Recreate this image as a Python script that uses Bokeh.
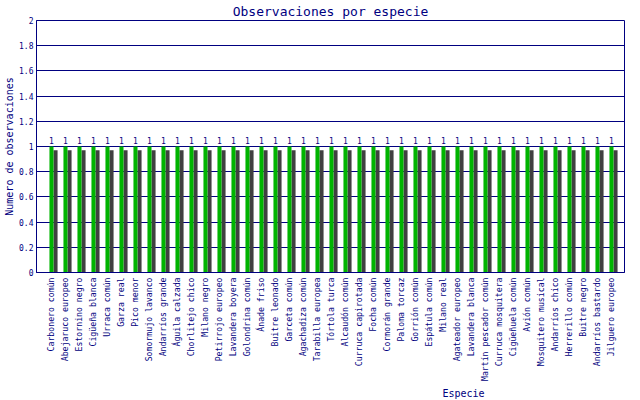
import math
from bokeh.plotting import figure
from bokeh.models import ColumnDataSource, Range1d, FixedTicker, Title
from bokeh.transform import dodge
from bokeh.core.properties import value
from bokeh.embed import file_html
from bokeh.resources import INLINE

species = [
    "Carbonero común", "Abejaruco europeo", "Estornino negro", "Cigüeña blanca",
    "Urraca común", "Garza real", "Pico menor", "Somormujo lavanco",
    "Andarríos grande", "Águila calzada", "Chorlitejo chico", "Milano negro",
    "Petirrojo europeo", "Lavandera boyera", "Golondrina común", "Ánade friso",
    "Buitre leonado", "Garceta común", "Agachadiza común", "Tarabilla europea",
    "Tórtola turca", "Alcaudón común", "Curruca capirotada", "Focha común",
    "Cormorán grande", "Paloma torcaz", "Gorrión común", "Espátula común",
    "Milano real", "Agateador europeo", "Lavandera blanca", "Martín pescador común",
    "Curruca mosquitera", "Cigüeñuela común", "Avión común", "Mosquitero musical",
    "Andarríos chico", "Herrerillo común", "Buitre negro", "Andarríos bastardo",
    "Jilguero europeo",
]
counts = [1, 1, 1, 1, 1, 1, 1, 1, 1, 1, 1, 1, 1, 1, 1, 1, 1, 1, 1, 1, 1,
          1, 1, 1, 1, 1, 1, 1, 1, 1, 1, 1, 1, 1, 1, 1, 1, 1, 1, 1, 1]
y_ticks = [0, 0.2, 0.4, 0.6, 0.8, 1, 1.2, 1.4, 1.6, 1.8, 2]
y_tick_labels = ["0", "0.2", "0.4", "0.6", "0.8", "1", "1.2", "1.4", "1.6", "1.8", "2"]

title_text = "Observaciones por especie"
x_title = "Especie"
y_title = "Numero de observaciones"

NAVY = "#000080"
GREEN = "#00b400"
SHADOW = "#404040"
FONT = "DejaVu Sans Mono"

idx = list(range(len(species)))
src = ColumnDataSource(dict(x=idx, top=counts, label=[str(c) for c in counts]))

p = figure(width=640, height=400, output_backend="svg", toolbar_location=None,
           x_range=Range1d(-1.07, 40.93), y_range=Range1d(0, 2),
           min_border_left=36, min_border_right=16, min_border_top=20,
           min_border_bottom=128, background_fill_color="white",
           border_fill_color="white")

p.outline_line_color = NAVY
p.outline_line_width = 1

# shadow then bar
p.vbar(x=dodge("x", 0.29, range=p.x_range), top=dodge("top", -0.03, range=p.y_range),
       bottom=0, width=0.29, source=src, fill_color=SHADOW, line_color=None)
p.vbar(x="x", top="top", bottom=0, width=0.29, source=src,
       fill_color=GREEN, line_color=None)
p.text(x="x", y="top", text="label", source=src, text_align="center",
       text_baseline="bottom", y_offset=-3, text_font=value(FONT),
       text_font_size="8px", text_color=NAVY)

p.xgrid.visible = False
p.ygrid.ticker = FixedTicker(ticks=y_ticks)
p.ygrid.grid_line_color = NAVY
p.ygrid.grid_line_width = 1

p.xaxis.ticker = FixedTicker(ticks=idx)
p.xaxis.major_label_overrides = {i: s for i, s in zip(idx, species)}
p.xaxis.major_label_orientation = math.pi / 2
p.xaxis.major_label_standoff = 5
p.xaxis.major_label_text_font_size = "8.2px"
p.yaxis.ticker = FixedTicker(ticks=y_ticks)
p.yaxis.major_label_overrides = {t: s for t, s in zip(y_ticks, y_tick_labels)}
p.yaxis.major_label_standoff = 3
p.yaxis.major_label_text_font_size = "8px"
p.yaxis.axis_label = y_title
p.yaxis.axis_label_standoff = 1
p.yaxis.axis_label_text_font = FONT
p.yaxis.axis_label_text_font_size = "10px"
p.yaxis.axis_label_text_font_style = "normal"
p.yaxis.axis_label_text_color = NAVY
for ax in (p.xaxis[0], p.yaxis[0]):
    ax.axis_line_color = NAVY
    ax.major_tick_out = 0
    ax.major_tick_in = 0
    ax.minor_tick_out = 0
    ax.minor_tick_in = 0
    ax.major_label_text_font = FONT
    ax.major_label_text_color = NAVY

p.title.text = title_text
p.title.align = "center"
p.title.vertical_align = "top"
p.title.text_font = FONT
p.title.text_font_size = "13px"
p.title.text_font_style = "normal"
p.title.text_color = NAVY
p.title.standoff = 0

p.add_layout(Title(text=x_title, align="left", offset=406, text_font=FONT,
                   text_font_size="10px", text_font_style="normal",
                   text_color=NAVY, standoff=2), "below")

open("out.html", "w").write(file_html(p, INLINE))
